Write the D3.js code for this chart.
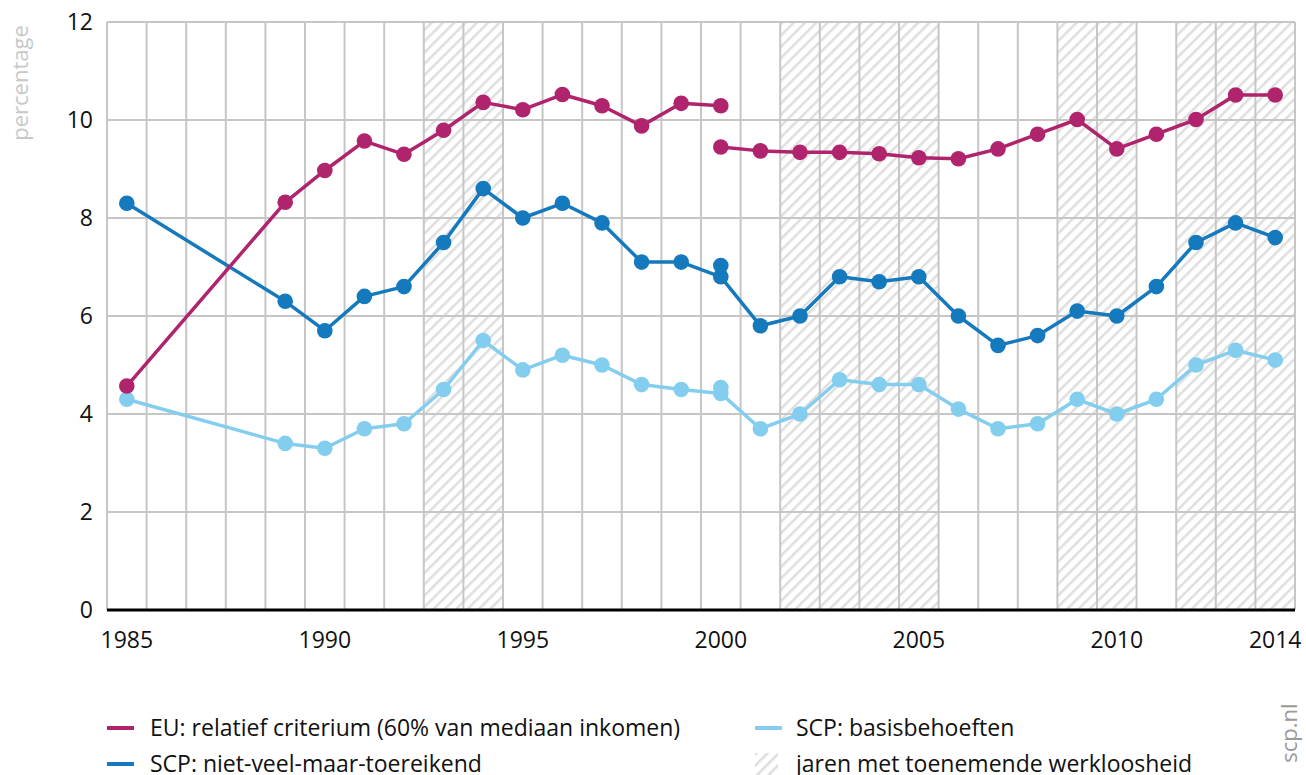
<!DOCTYPE html>
<html>
  <head>
    <meta charset="utf-8">
    <script src="https://d3js.org/d3.v7.min.js"></script>
    <style>
      body { margin: 0; background: white; }
      text { font-family: "Open Sans", sans-serif; }
      .grid line { stroke: #c6c6c6; stroke-width: 2px; }
    </style>
  </head>
  <body>
    <div id="chart"></div>
<script>

      var years = [1985, 1989, 1990, 1991, 1992, 1993, 1994, 1995, 1996, 1997, 1998, 1999, 2000,
                   2001, 2002, 2003, 2004, 2005, 2006, 2007, 2008, 2009, 2010, 2011, 2012, 2013, 2014];

      // EU criterion, old method up to 2000, new method from 2000
      var euOldYears = [1985, 1989, 1990, 1991, 1992, 1993, 1994, 1995, 1996, 1997, 1998, 1999, 2000];
      var euOld = [4.57, 8.32, 8.97, 9.57, 9.3, 9.79, 10.36, 10.21, 10.52, 10.29, 9.88, 10.34, 10.29];
      var euNewYears = [2000, 2001, 2002, 2003, 2004, 2005, 2006, 2007, 2008, 2009, 2010, 2011, 2012, 2013, 2014];
      var euNew = [9.45, 9.37, 9.34, 9.34, 9.31, 9.23, 9.21, 9.41, 9.71, 10.01, 9.41, 9.71, 10.01, 10.51, 10.51];

      var nvmt = [8.3, 6.3, 5.7, 6.4, 6.6, 7.5, 8.6, 8.0, 8.3, 7.9, 7.1, 7.1, 6.8,
                  5.8, 6.0, 6.8, 6.7, 6.8, 6.0, 5.4, 5.6, 6.1, 6.0, 6.6, 7.5, 7.9, 7.6];
      var nvmtExtra = [[2000, 7.03]];

      var basis = [4.3, 3.4, 3.3, 3.7, 3.8, 4.5, 5.5, 4.9, 5.2, 5.0, 4.6, 4.5, 4.42,
                   3.7, 4.0, 4.7, 4.6, 4.6, 4.1, 3.7, 3.8, 4.3, 4.0, 4.3, 5.0, 5.3, 5.1];
      var basisExtra = [[2000, 4.54]];

      // years with rising unemployment
      var unemployment = [[1993, 1994], [2002, 2005], [2009, 2010], [2012, 2014]];

      var yTicks = [0, 2, 4, 6, 8, 10, 12];
      var xTicks = [1985, 1990, 1995, 2000, 2005, 2010, 2014];

      var legendItems = [
        { label: "EU: relatief criterium (60% van mediaan inkomen)", color: "#b0246d", type: "line" },
        { label: "SCP: niet-veel-maar-toereikend", color: "#1479bd", type: "line" },
        { label: "SCP: basisbehoeften", color: "#83cdef", type: "line" },
        { label: "jaren met toenemende werkloosheid", color: "", type: "hatch" }
      ];

      var width = 1306, height = 775;
      var plotLeft = 107, plotRight = 1295, plotTop = 22, plotBottom = 610;

      var svg = d3.select("#chart").append("svg")
        .attr("width", width)
        .attr("height", height);

      var defs = svg.append("defs");
      var pat = defs.append("pattern")
        .attr("id", "hatch")
        .attr("patternUnits", "userSpaceOnUse")
        .attr("width", 8).attr("height", 8)
        .attr("patternTransform", "rotate(45)");
      pat.append("rect").attr("width", 8).attr("height", 8).attr("fill", "white");
      pat.append("line")
        .attr("x1", 0).attr("y1", 0).attr("x2", 0).attr("y2", 8)
        .attr("stroke", "#dedede").attr("stroke-width", 5);

      var x = d3.scaleLinear().domain([1984.5, 2014.5]).range([plotLeft, plotRight]);
      var y = d3.scaleLinear().domain([0, 12]).range([plotBottom, plotTop]);

      // shaded bands
      svg.append("g").selectAll("rect")
        .data(unemployment).enter()
        .append("rect")
        .attr("x", function (d) { return x(d[0] - 0.5); })
        .attr("width", function (d) { return x(d[1] + 0.5) - x(d[0] - 0.5); })
        .attr("y", y(12))
        .attr("height", y(0) - y(12))
        .attr("fill", "url(#hatch)");

      // grid
      var grid = svg.append("g").attr("class", "grid");
      grid.selectAll(".v")
        .data(d3.range(1984.5, 2015, 1)).enter()
        .append("line")
        .attr("x1", function (d) { return x(d); })
        .attr("x2", function (d) { return x(d); })
        .attr("y1", y(12)).attr("y2", y(0));
      grid.selectAll(".h")
        .data(yTicks.filter(function (d) { return d > 0; })).enter()
        .append("line")
        .attr("x1", x(1984.5)).attr("x2", x(2014.5))
        .attr("y1", function (d) { return y(d); })
        .attr("y2", function (d) { return y(d); });

      svg.append("line")
        .attr("x1", x(1984.5)).attr("x2", x(2014.5))
        .attr("y1", y(0)).attr("y2", y(0))
        .attr("stroke", "black").attr("stroke-width", 3);

      // axis labels
      svg.append("g").selectAll("text")
        .data(yTicks).enter()
        .append("text")
        .attr("x", 93)
        .attr("y", function (d) { return y(d) + 8; })
        .attr("text-anchor", "end")
        .attr("font-size", 23)
        .attr("fill", "#111")
        .text(function (d) { return d; });

      svg.append("g").selectAll("text")
        .data(xTicks).enter()
        .append("text")
        .attr("x", function (d) { return x(d); })
        .attr("y", 648)
        .attr("text-anchor", "middle")
        .attr("font-size", 23)
        .attr("fill", "#111")
        .text(function (d) { return d; });

      svg.append("text")
        .attr("transform", "translate(28,83) rotate(-90)")
        .attr("text-anchor", "middle")
        .attr("font-size", 22)
        .attr("fill", "#c8c8c8")
        .text("percentage");

      var line = d3.line()
        .x(function (d) { return x(d[0]); })
        .y(function (d) { return y(d[1]); });

      function drawSeries(xs, vs, color) {
        var pts = xs.map(function (yr, i) { return [yr, vs[i]]; });
        var g = svg.append("g");
        g.append("path")
          .datum(pts)
          .attr("d", line)
          .attr("fill", "none")
          .attr("stroke", color)
          .attr("stroke-width", 3.5)
          .attr("stroke-linejoin", "round");
        g.selectAll("circle")
          .data(pts).enter()
          .append("circle")
          .attr("cx", function (d) { return x(d[0]); })
          .attr("cy", function (d) { return y(d[1]); })
          .attr("r", 7.8)
          .attr("fill", color);
        return g;
      }

      function drawPoints(pts, color) {
        svg.append("g").selectAll("circle")
          .data(pts).enter()
          .append("circle")
          .attr("cx", function (d) { return x(d[0]); })
          .attr("cy", function (d) { return y(d[1]); })
          .attr("r", 7.8)
          .attr("fill", color);
      }

      drawSeries(years, basis, legendItems[2].color);
      drawPoints(basisExtra, legendItems[2].color);
      drawSeries(years, nvmt, legendItems[1].color);
      drawPoints(nvmtExtra, legendItems[1].color);
      drawSeries(euOldYears, euOld, legendItems[0].color);
      drawSeries(euNewYears, euNew, legendItems[0].color);

      // legend
      var legendPos = [[107, 728], [107, 764], [755, 728], [755, 764]];
      var leg = svg.append("g").selectAll("g")
        .data(legendItems).enter()
        .append("g")
        .attr("transform", function (d, i) { return "translate(" + legendPos[i][0] + "," + legendPos[i][1] + ")"; });

      leg.filter(function (d) { return d.type === "line"; })
        .append("line")
        .attr("x1", 0).attr("x2", 27)
        .attr("y1", 0).attr("y2", 0)
        .attr("stroke", function (d) { return d.color; })
        .attr("stroke-width", 4);

      leg.filter(function (d) { return d.type === "hatch"; })
        .append("rect")
        .attr("x", 0).attr("y", -11)
        .attr("width", 23).attr("height", 22)
        .attr("fill", "url(#hatch)");

      leg.append("text")
        .attr("x", function (d, i) { return i < 2 ? 43 : 41; })
        .attr("y", 8)
        .attr("font-size", 23)
        .attr("fill", "#111")
        .text(function (d) { return d.label; });

      svg.append("text")
        .attr("transform", "translate(1297,733) rotate(-90)")
        .attr("text-anchor", "middle")
        .attr("font-size", 22)
        .attr("fill", "#9a9a9a")
        .text("scp.nl");

    </script>
  </body>
</html>
